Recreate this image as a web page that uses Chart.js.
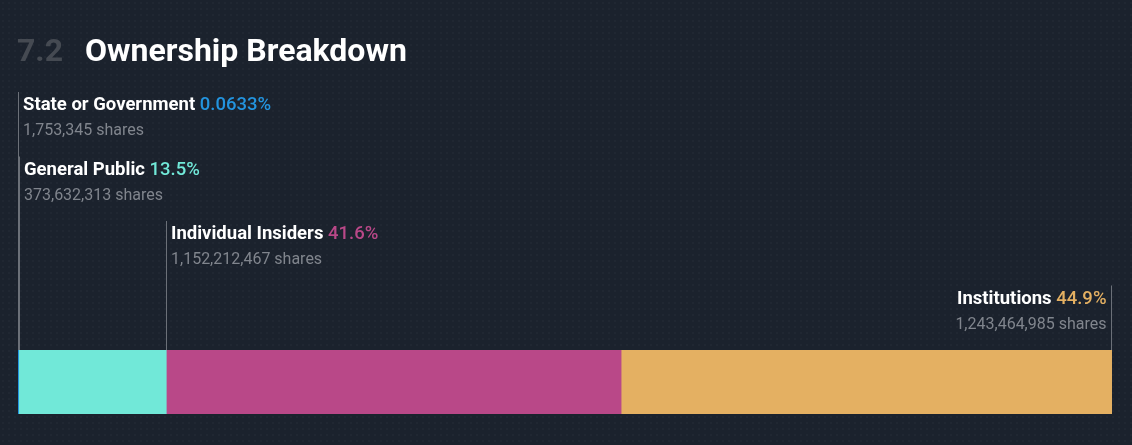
<!DOCTYPE html>
<html>
<head>
<meta charset="utf-8">
<script src="https://cdn.jsdelivr.net/npm/chart.js@4.4.1/dist/chart.umd.min.js"></script>
<style>
  html, body { margin: 0; padding: 0; }
  body {
    width: 1132px; height: 445px; overflow: hidden;
    background-color: #1b222d;
    background-image: radial-gradient(rgba(255,255,255,0.025) 1px, transparent 1.2px);
    background-size: 6px 6px;
  }
  #wrap { position: relative; width: 1132px; height: 445px; }
</style>
</head>
<body>
<div id="wrap"><canvas id="chart" width="1132" height="445"></canvas></div>
<script>
// ownership data
const categories = ["State or Government", "General Public", "Individual Insiders", "Institutions"];
const percents = [0.0633, 13.5, 41.6, 44.9];
const percentLabels = ["0.0633%", "13.5%", "41.6%", "44.9%"];
const shares = ["1,753,345", "373,632,313", "1,152,212,467", "1,243,464,985"];
const colors = ["#2394df", "#71e8d8", "#b94888", "#e4b062"];

const total = percents.reduce((a, b) => a + b, 0);

// title + leader labels
const labelsPlugin = {
    id: "ownershipLabels",
    afterDraw(chart) {
        const ctx = chart.ctx;
        const xs = chart.scales.x;
        const area = chart.chartArea;
        ctx.save();

        // heading
        ctx.textBaseline = "alphabetic";
        ctx.textAlign = "left";
        ctx.font = "bold 32px Roboto";
        ctx.fillStyle = "#454a52";
        ctx.fillText("7.2", 17, 61);
        ctx.fillStyle = "#ffffff";
        ctx.fillText("Ownership Breakdown", 85, 61);

        let start = 0;
        categories.forEach((name, i) => {
            const isLast = i === categories.length - 1;
            const x0 = xs.getPixelForValue(start);
            const x1 = xs.getPixelForValue(start + percents[i]);
            start += percents[i];

            const top = 92 + i * 64.5;
            const lx = isLast ? Math.round(x1) - 0.5 : Math.round(x0) + 0.5;

            ctx.strokeStyle = "#6b7078";
            ctx.lineWidth = 1;
            ctx.beginPath();
            ctx.moveTo(lx, top);
            ctx.lineTo(lx, area.top);
            ctx.stroke();

            const pctFont = "500 18.5px Roboto";
            const nameFont = "bold 18.5px Roboto";
            ctx.font = nameFont;
            const nameW = ctx.measureText(name + " ").width;
            ctx.font = pctFont;
            const pctW = ctx.measureText(percentLabels[i]).width;

            let tx = isLast ? lx - 5 - (nameW + pctW) : lx + 4.5;
            ctx.textAlign = "left";
            ctx.font = nameFont;
            ctx.fillStyle = "#ffffff";
            ctx.fillText(name, tx, top + 18);
            ctx.font = pctFont;
            ctx.fillStyle = colors[i];
            ctx.fillText(percentLabels[i], tx + nameW, top + 18);

            ctx.font = "16px Roboto";
            ctx.fillStyle = "#80858d";
            ctx.textAlign = isLast ? "right" : "left";
            ctx.fillText(shares[i] + " shares", isLast ? lx - 5 : lx + 4.5, top + 43);
        });
        ctx.restore();
    }
};

new Chart(document.getElementById("chart"), {
    type: "bar",
    data: {
        labels: ["Ownership"],
        datasets: categories.map((name, i) => ({
            label: name,
            data: [percents[i]],
            backgroundColor: colors[i],
            borderWidth: 0,
            barPercentage: 1,
            categoryPercentage: 1
        }))
    },
    options: {
        indexAxis: "y",
        responsive: false,
        animation: false,
        layout: { padding: { left: 18, right: 20, top: 350, bottom: 31 } },
        scales: {
            x: { stacked: true, min: 0, max: total, display: false },
            y: { stacked: true, display: false }
        },
        plugins: {
            legend: { display: false },
            tooltip: { enabled: false }
        }
    },
    plugins: [labelsPlugin]
});
</script>
</body>
</html>
